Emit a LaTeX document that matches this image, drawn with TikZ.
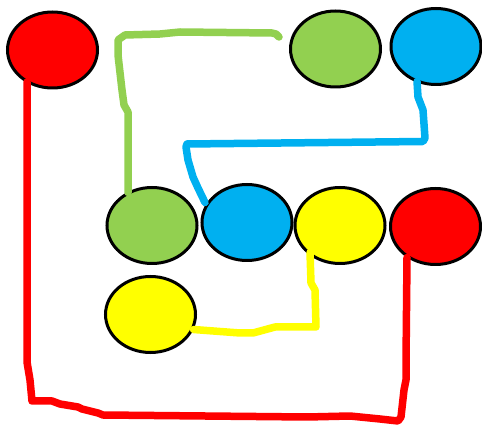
\documentclass[tikz,border=0pt]{standalone}
\usetikzlibrary{shapes.geometric}
\definecolor{cred}{HTML}{FF0000}
\definecolor{cgreen}{HTML}{92D050}
\definecolor{cblue}{HTML}{00B0F0}
\definecolor{cyellow}{HTML}{FFFF00}
\tikzset{
  blob/.style={ellipse, draw=black, line width=3pt, inner sep=0pt,
    minimum width=90pt, minimum height=76pt},
  wire/.style={line width=7.5pt, line cap=round, line join=round}
}
\begin{document}
\begin{tikzpicture}[x=1pt,y=-1pt]
\useasboundingbox (0,0) rectangle (482,427);
% ellipses
\node[blob, fill=cred]    (r1) at (52.5,50) {};
\node[blob, fill=cgreen]  (g1) at (335.5,49) {};
\node[blob, fill=cblue]   (b1) at (436,46.5) {};
\node[blob, fill=cgreen]  (g2) at (152,225.5) {};
\node[blob, fill=cblue]   (b2) at (247,222.5) {};
\node[blob, fill=cyellow] (y2) at (340,225.5) {};
\node[blob, fill=cred]    (r2) at (435.5,226.5) {};
\node[blob, fill=cyellow] (y3) at (150.5,314.5) {};
% anchor points of the wires
\coordinate (gs) at ([shift={(-56.5,-12)}]g1.center);
\coordinate (ge) at ([shift={(-24,-33)}]g2.center);
\coordinate (bs) at ([shift={(-19,35)}]b1.center);
\coordinate (be) at ([shift={(-42,-20)}]b2.center);
\coordinate (ys) at ([shift={(-30,27)}]y2.center);
\coordinate (ye) at ([shift={(43,15)}]y3.center);
\coordinate (rs) at ([shift={(-25.5,32)}]r1.center);
\coordinate (re) at ([shift={(-28.5,31)}]r2.center);
% wires
\draw[wire, cgreen] (gs) -- (276,34) -- (272,33) -- (180,32) -- (160,34) -- (125,35)
  -- (118,40) -- (118,55) -- (122,90) -- (124,105) -- (128,112) -- (128,140) -- (ge);
\draw[wire, cblue] (bs) -- (418,97) -- (423,110) -- (425,138) -- (423,141.5)
  -- (187,144) -- (186,147) -- (188,160) -- (193,177) -- (198,188) -- (be);
\draw[wire, cyellow] (ys) -- (311,283) -- (315,290) -- (316,327) -- (275,327)
  -- (253,333) -- (240,333) -- (ye);
\draw[wire, cred] (rs) -- (27,362) -- (30,380) -- (32,401) -- (52,401) -- (60,404)
  -- (78,407) -- (82,409) -- (98,413) -- (103,415) -- (307,417) -- (350,416)
  -- (380,419) -- (398,421) -- (401,417) -- (404,390) -- (406,380) -- (406,363) -- (re);
\end{tikzpicture}
\end{document}
